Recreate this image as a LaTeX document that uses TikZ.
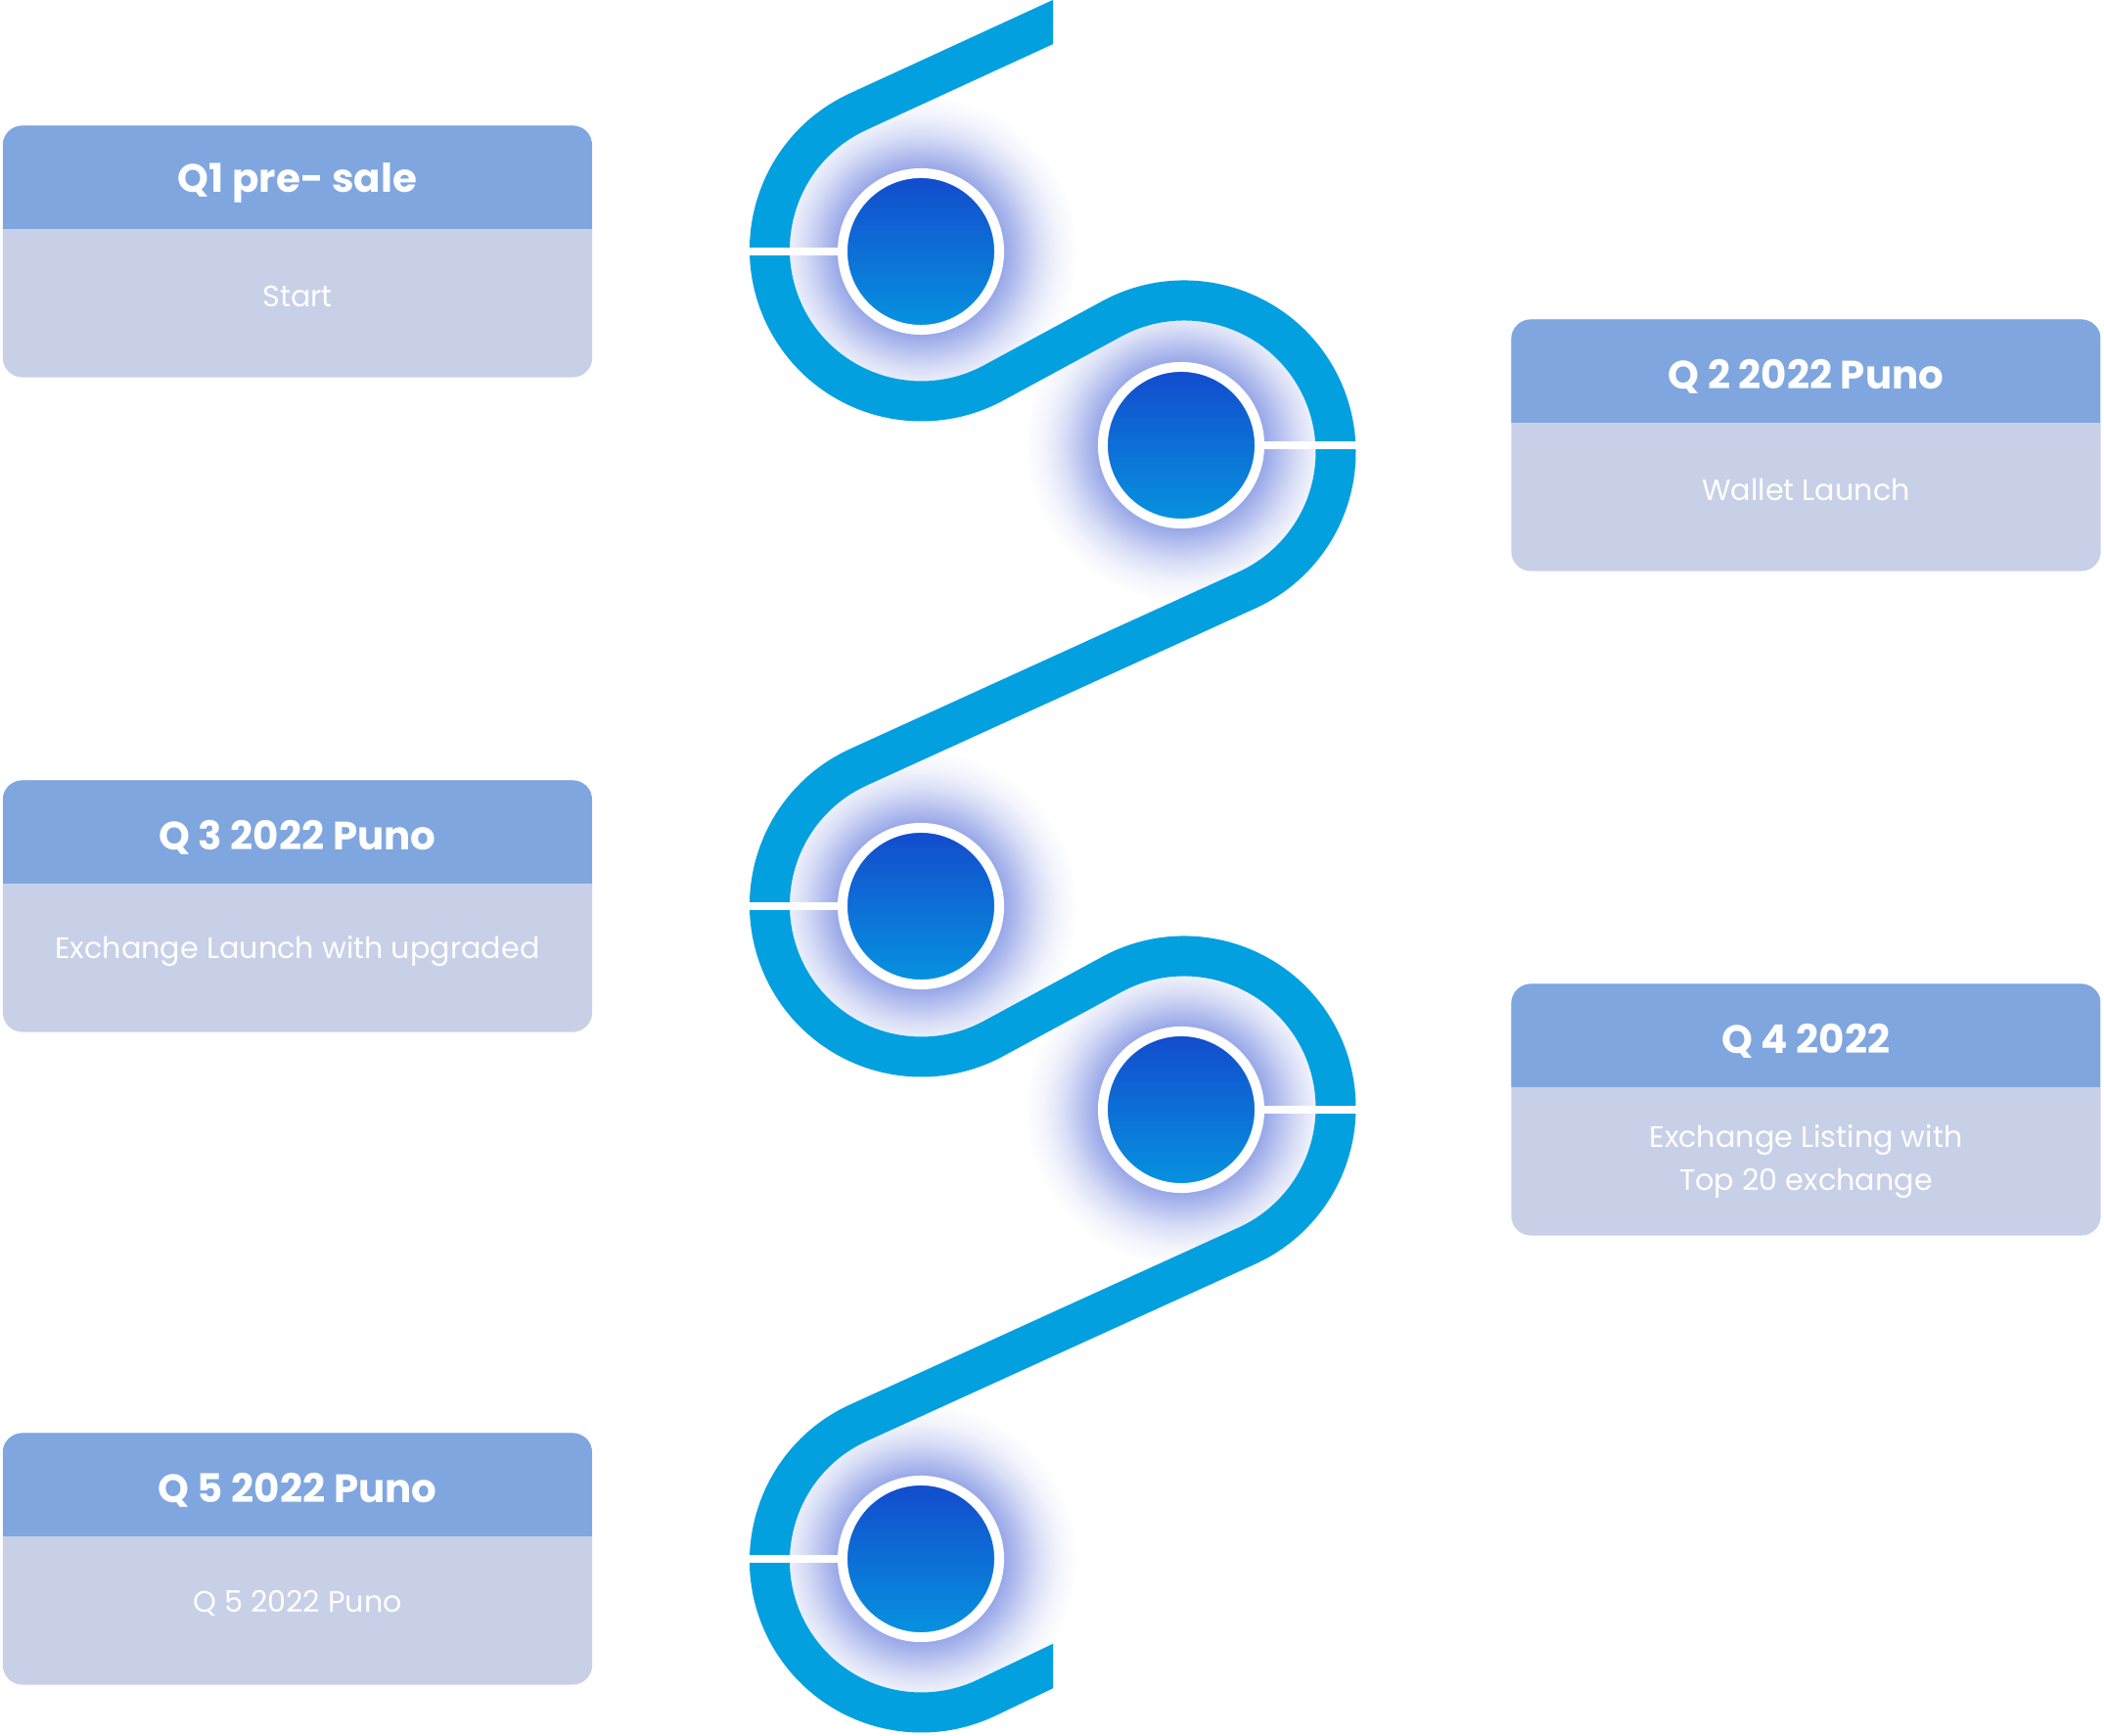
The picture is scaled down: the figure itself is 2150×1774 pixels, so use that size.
\documentclass[tikz,border=0pt]{standalone}
\usepackage{fontspec}
\setmainfont{Poppins}
\usetikzlibrary{calc}

\definecolor{bandblue}{RGB}{3,160,224}
\definecolor{cardhead}{RGB}{127,166,223}
\definecolor{cardbody}{RGB}{200,208,232}
\definecolor{dottop}{RGB}{19,74,204}
\definecolor{dotbottom}{RGB}{6,148,224}
\definecolor{halo}{RGB}{118,138,224}
\pgfdeclareradialshading{glow}{\pgfpoint{0bp}{0bp}}{color(0bp)=(halo!75!white); color(13.3bp)=(halo!75!white); color(15.6bp)=(halo!55!white); color(18.7bp)=(halo!28!white); color(21.9bp)=(halo!9!white); color(25bp)=(white); color(50bp)=(white)}

\begin{document}
\begin{tikzpicture}[
        x=0.01cm, y=0.01cm,
        card/.style={rounded corners=0.2cm, fill=cardbody, minimum width=6.02cm,
          minimum height=2.57cm, inner sep=0pt,
          path picture={\fill[cardhead, sharp corners] (path picture bounding box.north west)
            rectangle ([yshift=-1.06cm]path picture bounding box.north east);}},
        head/.style={text=white, font=\fontsize{11.5pt}{13pt}\selectfont\bfseries},
        note/.style={text=white, align=center, font=\fontsize{8.6pt}{12.5pt}\selectfont},
        dot/.style={circle, draw=white, line width=0.1cm, minimum size=1.6cm,
          inner sep=0pt, top color=dottop, bottom color=dotbottom},
        gap/.style={white, line width=0.08cm},
        road/.style={bandblue, line width=0.41cm}
      ]
      \useasboundingbox (0,0) rectangle (2150,-1774);
      \coordinate (c1) at (941,-257);
      \coordinate (c2) at (1207,-455);
      \coordinate (c3) at (941,-926);
      \coordinate (c4) at (1207,-1134);
      \coordinate (c5) at (941,-1593);
      \coordinate (top) at (1076,-22.5);
      \coordinate (bot) at (1076,-1702.5);
      \coordinate (s1) at ($(941.5,-255)+(114.70:155)$);
      \coordinate (s2) at ($(1210,-462)+(118.48:155)$);
      \coordinate (s3) at ($(941.5,-925)+(114.50:155)$);
      \coordinate (s4) at ($(1210,-1132)+(118.48:155)$);
      \coordinate (s5) at ($(941.5,-1595)+(114.50:155)$);
      \coordinate (e5) at ($(941.5,-1595)+(295.55:155)$);

      \shade[shading=glow] (c1) circle [radius=160];
      \shade[shading=glow] (c2) circle [radius=160];
      \shade[shading=glow] (c3) circle [radius=160];
      \shade[shading=glow] (c4) circle [radius=160];
      \shade[shading=glow] (c5) circle [radius=160];

      \begin{scope}
        \clip (0,0) -- (1076,0) -- (1076,-120) -- (1500,-120) -- (1500,-1640)
          -- (1076,-1640) -- (1076,-1774) -- (0,-1774) -- cycle;
        \draw[road] ($(s1)!1.5!(top)$) -- (s1)
          arc [start angle=114.70, end angle=298.48, radius=155] -- (s2)
          arc [start angle=118.48, end angle=-65.50, radius=155] -- (s3)
          arc [start angle=114.50, end angle=298.48, radius=155] -- (s4)
          arc [start angle=118.48, end angle=-65.50, radius=155] -- (s5)
          arc [start angle=114.50, end angle=295.55, radius=155] -- ($(e5)!2!(bot)$);
      \end{scope}

      \draw[gap] ($(c1)-(182,0)$) -- (c1);
      \draw[gap] ($(c2)+(182,0)$) -- (c2);
      \draw[gap] ($(c3)-(182,0)$) -- (c3);
      \draw[gap] ($(c4)+(182,0)$) -- (c4);
      \draw[gap] ($(c5)-(182,0)$) -- (c5);

      \node[dot] (m1) at (c1) {};
      \node[dot] (m2) at (c2) {};
      \node[dot] (m3) at (c3) {};
      \node[dot] (m4) at (c4) {};
      \node[dot] (m5) at (c5) {};

      \node[card] (k1) at (304,-257) {};
      \node[head] (k1h) at ([yshift=-0.59cm]k1.north) {Q1 pre- sale};
      \node[note] (k1n) at ([yshift=-1.75cm]k1.north) {Start};
      \node[card] (k2) at (1845.5,-455) {};
      \node[head] (k2h) at ([yshift=-0.59cm]k2.north) {Q 2 2022 Puno};
      \node[note] (k2n) at ([yshift=-1.75cm]k2.north) {Wallet Launch};
      \node[card] (k3) at (304,-926) {};
      \node[head] (k3h) at ([yshift=-0.59cm]k3.north) {Q 3 2022 Puno};
      \node[note] (k3n) at ([yshift=-1.75cm]k3.north) {Exchange Launch with upgraded};
      \node[card] (k4) at (1845.5,-1134) {};
      \node[head] (k4h) at ([yshift=-0.59cm]k4.north) {Q 4 2022};
      \node[note] (k4n) at ([yshift=-1.82cm]k4.north) {Exchange Listing with\\Top 20 exchange};
      \node[card] (k5) at (304,-1593) {};
      \node[head] (k5h) at ([yshift=-0.59cm]k5.north) {Q 5 2022 Puno};
      \node[note] (k5n) at ([yshift=-1.75cm]k5.north) {Q 5 2022 Puno};
    \end{tikzpicture}
\end{document}
